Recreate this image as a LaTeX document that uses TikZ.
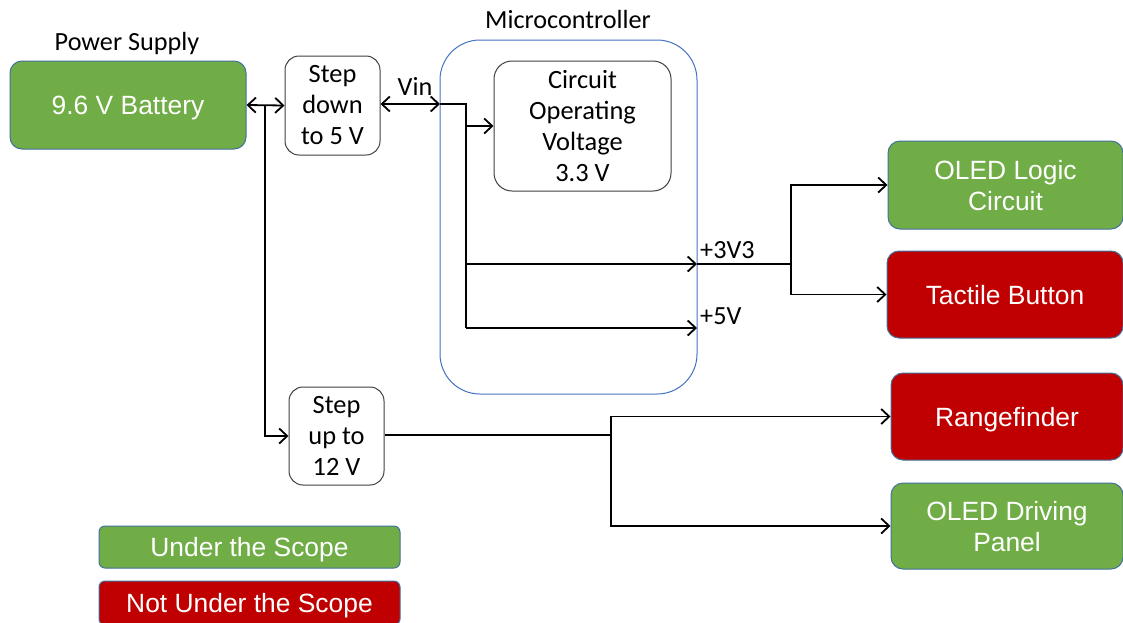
\documentclass[tikz,border=0pt]{standalone}
\usepackage{fontspec}
\setmainfont{Liberation Sans}
\newfontfamily\carlito{Carlito}
\usetikzlibrary{arrows.meta}
\definecolor{okgreen}{HTML}{70AD47}
\definecolor{nored}{HTML}{C00000}
\definecolor{edgeblue}{HTML}{41719C}
\definecolor{mcblue}{HTML}{4472C4}
\definecolor{grayedge}{HTML}{404040}
\tikzset{
  colbox/.style={draw=edgeblue, line width=1pt, rounded corners=12pt, text=white,
    align=center, inner sep=0pt, text depth=0pt, font=\fontsize{26.4}{31}\selectfont},
  gbox/.style={colbox, fill=okgreen},
  rbox/.style={colbox, fill=nored},
  wbox/.style={draw=grayedge, line width=1pt, fill=white, rounded corners=14pt,
    align=center, inner sep=0pt, font=\carlito\fontsize{26.4}{31}\selectfont},
  lbl/.style={font=\carlito\fontsize{26.2}{30}\selectfont, inner sep=0pt},
  wire/.style={line width=1.8pt, black},
  arr/.style={wire, -{Straight Barb[length=8pt,width=15pt,line width=1.8pt]}},
  dbl/.style={wire, {Straight Barb[length=8pt,width=15pt,line width=1.8pt]}-{Straight Barb[length=8pt,width=15pt,line width=1.8pt]}}
}
\begin{document}
\begin{tikzpicture}[x=1pt,y=-1pt]
\useasboundingbox (0,0) rectangle (1123,622);
\fill[white] (0,0) rectangle (1123,622);

% microcontroller frame
\node[draw=mcblue, line width=1pt, rounded corners=40pt, minimum width=257pt, minimum height=354pt, inner sep=0pt] (mc) at (568.5,217) {};
\node[lbl] (mclbl) at (568,19) {Microcontroller};

% power supply
\node[lbl] (pslbl) at (127,44) {Power Supply};
\node[gbox, minimum width=236pt, minimum height=88pt] (bat) at (128,105) {9.6 V Battery};

% step boxes
\node[wbox, minimum width=95pt, minimum height=99pt] (sd) at (332.5,105.5) {Step\\down\\to 5 V};
\node[wbox, minimum width=95pt, minimum height=98pt] (su) at (336.5,436) {Step\\up to\\12 V};

% circuit operating voltage
\node[wbox, rounded corners=18pt, minimum width=177pt, minimum height=130pt] (cov) at (582.5,126) {Circuit\\Operating\\Voltage\\3.3 V};

% loads
\node[gbox, minimum width=235pt, minimum height=88pt] (oled) at (1005.5,185) {OLED Logic\\Circuit};
\node[rbox, minimum width=236pt, minimum height=87pt] (tact) at (1005,294.5) {Tactile Button};
\node[rbox, minimum width=232pt, minimum height=87pt] (range) at (1007,416.5) {Rangefinder};
\node[gbox, minimum width=232pt, minimum height=86pt] (drive) at (1007,526) {OLED Driving\\Panel};

% legend
\node[gbox, rounded corners=6pt, minimum width=301pt, minimum height=42pt] (leg1) at (249.5,547) {Under the Scope};
\node[rbox, rounded corners=6pt, minimum width=301pt, minimum height=44pt] (leg2) at (249.5,603) {Not Under the Scope};

% labels
\node[lbl] (vin) at (415,86) {Vin};
\node[lbl, anchor=west] (l33) at (700,250) {+3V3};
\node[lbl, anchor=west] (l5) at (700,316) {+5V};

% coordinates
\coordinate (j1) at (265,105);
\coordinate (vinin) at (440,104);
\coordinate (j2) at (466,104);
\coordinate (jc) at (466,126);
\coordinate (j33) at (466,264);
\coordinate (j5) at (466,328);
\coordinate (o33) at (697,264);
\coordinate (o5) at (697,328);
\coordinate (j3) at (791,264);
\coordinate (j4) at (611,435);

% connectors
\draw[dbl] (bat.east) -- (sd.west);
\draw[arr] (j1) |- (su.west);
\draw[dbl] (sd.east |- vinin) -- (vinin);
\draw[wire] (vinin) -- (j2) -- (466,328);
\draw[arr] (jc) -- (cov.west |- jc);
\draw[arr] (j33) -- (o33);
\draw[arr] (j5) -- (o5);
\draw[wire] (o33) -- (j3);
\draw[arr] (j3) |- (oled.west);
\draw[arr] (j3) |- (tact.west);
\draw[wire] (su.east |- j4) -- (j4);
\draw[arr] (j4) |- (range.west);
\draw[arr] (j4) |- (drive.west);
\end{tikzpicture}
\end{document}
